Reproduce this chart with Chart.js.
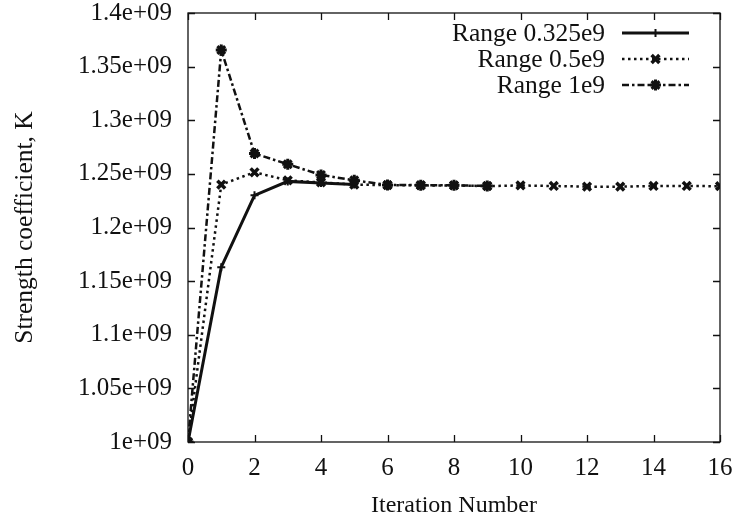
<!DOCTYPE html>
<html>
<head>
<meta charset="utf-8">
<script src="https://cdn.jsdelivr.net/npm/chart.js@4.4.1/dist/chart.umd.min.js"></script>
<style>
  html, body { margin: 0; padding: 0; background: #fff; }
  #wrap { width: 734px; height: 520px; }
</style>
</head>
<body>
<div id="wrap"><canvas id="chart" width="734" height="520"></canvas></div>
<script>
// values (units of 1e9)
const seriesLabels = ["Range 0.325e9", "Range 0.5e9", "Range 1e9"];

const itersA = [0, 1, 2, 3, 4, 5];
const valuesA = [1.0, 1.163, 1.230, 1.243, 1.2415, 1.240];

const itersB = [0, 1, 2, 3, 4, 5, 6, 7, 8, 9, 10, 11, 12, 13, 14, 15, 16];
const valuesB = [1.0, 1.240, 1.2515, 1.244, 1.242, 1.240, 1.2395, 1.2393, 1.2392,
                 1.2386, 1.2392, 1.2387, 1.2381, 1.2381, 1.2387, 1.2387, 1.2385];

const itersC = [0, 1, 2, 3, 4, 5, 6, 7, 8, 9];
const valuesC = [1.0, 1.3655, 1.269, 1.259, 1.249, 1.244, 1.2396, 1.2395, 1.2393, 1.2388];

const xTicks = [0, 2, 4, 6, 8, 10, 12, 14, 16];
const yMin = 1.0e9, yMax = 1.4e9, yStep = 0.05e9;

const FONT = "'Liberation Serif', 'Times New Roman', serif";
const INK = "#111";

function toPoints(xs, ys) {
  return xs.map((x, i) => ({ x: x, y: ys[i] * 1e9 }));
}

// tick labels may stick out past the frame, like gnuplot does
function noOverflow(s) {
  s.paddingTop = 0; s.paddingBottom = 0;
  s.paddingLeft = 0; s.paddingRight = 0;
}

// gnuplot style frame, inward ticks on all four sides, and key in the top right
const gnuplotFrame = {
  id: "gnuplotFrame",
  afterDatasetsDraw(chart) {
    const { ctx, chartArea: a, scales } = chart;
    const tl = 7;
    ctx.save();
    ctx.strokeStyle = INK;
    ctx.lineWidth = 1.3;
    ctx.setLineDash([]);
    ctx.strokeRect(a.left, a.top, a.right - a.left, a.bottom - a.top);
    ctx.beginPath();
    scales.x.ticks.forEach((t) => {
      const px = Math.round(scales.x.getPixelForValue(t.value)) + 0.5;
      ctx.moveTo(px, a.bottom); ctx.lineTo(px, a.bottom - tl);
      ctx.moveTo(px, a.top); ctx.lineTo(px, a.top + tl);
    });
    scales.y.ticks.forEach((t) => {
      const py = Math.round(scales.y.getPixelForValue(t.value)) + 0.5;
      ctx.moveTo(a.left, py); ctx.lineTo(a.left + tl, py);
      ctx.moveTo(a.right, py); ctx.lineTo(a.right - tl, py);
    });
    ctx.stroke();

    // key
    ctx.font = "25.5px " + FONT;
    ctx.fillStyle = INK;
    ctx.textAlign = "right";
    ctx.textBaseline = "middle";
    const textRight = 605, lineL = 622, lineR = 689, rowY0 = 33, rowH = 26;
    chart.data.datasets.forEach((ds, i) => {
      const y = rowY0 + i * rowH;
      ctx.fillText(ds.label, textRight, y + 1);
      ctx.strokeStyle = ds.borderColor;
      ctx.lineWidth = ds.borderWidth;
      ctx.setLineDash(ds.borderDash || []);
      ctx.beginPath();
      ctx.moveTo(lineL, y); ctx.lineTo(lineR, y);
      ctx.stroke();
      ctx.setLineDash([]);
      ctx.lineWidth = ds.pointBorderWidth;
      Chart.helpers.drawPoint(ctx, {
        pointStyle: ds.pointStyle, radius: ds.pointRadius,
        borderWidth: ds.pointBorderWidth, rotation: 0
      }, (lineL + lineR) / 2, y);
    });
    ctx.restore();
  }
};

new Chart(document.getElementById("chart"), {
  type: "line",
  data: {
    datasets: [
      {
        label: seriesLabels[0],
        data: toPoints(itersA, valuesA),
        borderColor: INK, backgroundColor: INK,
        borderWidth: 3, borderDash: [],
        pointStyle: "cross", pointRadius: 4, pointBorderWidth: 2,
        order: 2
      },
      {
        label: seriesLabels[1],
        data: toPoints(itersB, valuesB),
        borderColor: INK, backgroundColor: INK,
        borderWidth: 2.5, borderDash: [2.5, 3.5],
        pointStyle: "crossRot", pointRadius: 5.5, pointBorderWidth: 3.5,
        order: 1
      },
      {
        label: seriesLabels[2],
        data: toPoints(itersC, valuesC),
        borderColor: INK, backgroundColor: INK,
        borderWidth: 2.5, borderDash: [7, 3, 2.5, 3],
        pointStyle: "star", pointRadius: 5.5, pointBorderWidth: 3,
        order: 0
      }
    ]
  },
  options: {
    responsive: false,
    devicePixelRatio: 1,
    animation: false,
    layout: { padding: { left: 0, right: 14, top: 13, bottom: 0 } },
    plugins: {
      legend: { display: false },
      tooltip: { enabled: false }
    },
    elements: { line: { tension: 0 } },
    scales: {
      x: {
        type: "linear",
        min: 0, max: 16,
        afterBuildTicks: (s) => { s.ticks = xTicks.map((v) => ({ value: v })); },
        grid: { display: false, drawTicks: false },
        border: { display: false },
        ticks: {
          color: INK, font: { family: FONT, size: 25 }, padding: 11,
          maxRotation: 0, autoSkip: false
        },
        title: {
          display: true, text: "Iteration Number", color: INK,
          font: { family: FONT, size: 24 }, padding: { top: 4, bottom: 0 }
        },
        afterFit: (s) => { s.height = 78; noOverflow(s); }
      },
      y: {
        min: yMin, max: yMax,
        grid: { display: false, drawTicks: false },
        border: { display: false },
        ticks: {
          stepSize: yStep, color: INK, font: { family: FONT, size: 25 }, padding: 16,
          callback: (v) => parseFloat((v / 1e9).toFixed(2)) + "e+09"
        },
        title: {
          display: true, text: "Strength coefficient, K", color: INK,
          font: { family: FONT, size: 25.5 }, padding: { top: 10, bottom: 4 }
        },
        afterFit: (s) => { s.width = 188; noOverflow(s); }
      }
    }
  },
  plugins: [gnuplotFrame]
});
</script>
</body>
</html>
